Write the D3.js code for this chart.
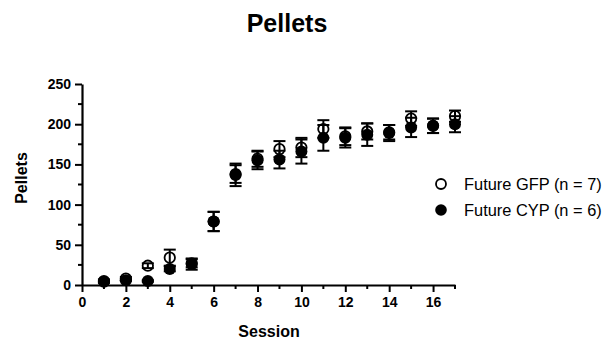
<!DOCTYPE html>
<html><head><meta charset="utf-8">
<script src="https://cdn.jsdelivr.net/npm/d3@7"></script>
<style>body{margin:0;background:#fff;} text{font-family:"Liberation Sans",Arial,sans-serif;}</style>
</head><body>
<svg id="c" width="607" height="340"></svg>
<script>
const sessions = [1,2,3,4,5,6,7,8,9,10,11,12,13,14,15,16,17];
const gfpMean = [5,8,24,34,27,79,137,157,169,171,194,185,191,190,207,198,210];
const gfpErr  = [2,2,3,10,5,12,14,10,10,12,11,11,10,9,9,9,7];
const cypMean = [4,6,5,20,26,79,138,155,156,166,183,183,187,189,196,198,200];
const cypErr  = [1,1,1,3,7,12,11,11,11,15,16,12,14,10,12,9,10];
const xTicks = [0,2,4,6,8,10,12,14,16];
const yTicks = [0,50,100,150,200,250];
const legendLabels = ["Future GFP (n = 7)","Future CYP (n = 6)"];

const svg = d3.select("#c");
const x = d3.scaleLinear().domain([0,17]).range([82,455]);
const y = d3.scaleLinear().domain([0,250]).range([285,84]);

const xAxis = d3.axisBottom(x).tickValues(xTicks).tickSize(7).tickSizeOuter(0).tickPadding(5);
const gx = svg.append("g").attr("transform","translate(0,285)").call(xAxis);
svg.append("g").selectAll("line").data(d3.range(1,18,2)).join("line")
  .attr("x1",d=>x(d)).attr("x2",d=>x(d)).attr("y1",285).attr("y2",289)
  .attr("stroke","#000").attr("stroke-width",2);

const yAxis = d3.axisLeft(y).tickValues(yTicks).tickSize(7).tickSizeOuter(0).tickPadding(4);
const gy = svg.append("g").attr("transform","translate(82,0)").call(yAxis);
svg.append("g").selectAll("line").data(d3.range(25,250,50)).join("line")
  .attr("x1",82).attr("x2",78).attr("y1",d=>y(d)).attr("y2",d=>y(d))
  .attr("stroke","#000").attr("stroke-width",2);

[gx,gy].forEach(g=>{
  g.select(".domain").attr("stroke","#000").attr("stroke-width",2.2);
  g.selectAll(".tick line").attr("stroke","#000").attr("stroke-width",2);
  g.selectAll(".tick text").attr("font-size",14).attr("font-weight","bold").attr("fill","#000")
   .attr("font-family","Liberation Sans, Arial, sans-serif");
});

function errBars(mean, err){
  const g = svg.append("g").attr("stroke","#000").attr("stroke-width",2);
  sessions.forEach((s,i)=>{
    const cx = x(s), t = y(mean[i]+err[i]), b = y(mean[i]-err[i]);
    g.append("line").attr("x1",cx).attr("x2",cx).attr("y1",t).attr("y2",b);
    g.append("line").attr("x1",cx-6).attr("x2",cx+6).attr("y1",t).attr("y2",t);
    g.append("line").attr("x1",cx-6).attr("x2",cx+6).attr("y1",b).attr("y2",b);
  });
}
errBars(gfpMean,gfpErr);
errBars(cypMean,cypErr);

svg.append("g").selectAll("circle").data(sessions).join("circle")
  .attr("cx",d=>x(d)).attr("cy",(d,i)=>y(cypMean[i])).attr("r",6).attr("fill","#000");
svg.append("g").selectAll("circle").data(sessions).join("circle")
  .attr("cx",d=>x(d)).attr("cy",(d,i)=>y(gfpMean[i])).attr("r",5.2)
  .attr("fill","none").attr("stroke","#000").attr("stroke-width",1.8);

svg.append("text").attr("x",287).attr("y",32).attr("text-anchor","middle")
  .attr("font-size",25).attr("font-weight","bold").text("Pellets");
svg.append("text").attr("x",269).attr("y",337).attr("text-anchor","middle")
  .attr("font-size",16).attr("font-weight","bold").text("Session");
svg.append("text").attr("transform","translate(26.5,178) rotate(-90)").attr("text-anchor","middle")
  .attr("font-size",16).attr("font-weight","bold").text("Pellets");

const lg = svg.append("g");
lg.append("circle").attr("cx",441).attr("cy",184).attr("r",5).attr("fill","none").attr("stroke","#000").attr("stroke-width",1.8);
lg.append("circle").attr("cx",441).attr("cy",210).attr("r",5.8).attr("fill","#000");
legendLabels.forEach((t,i)=>{
  lg.append("text").attr("x",464).attr("y",189.5+26*i).attr("font-size",16.4).attr("fill","#000").text(t);
});
</script>
</body></html>
